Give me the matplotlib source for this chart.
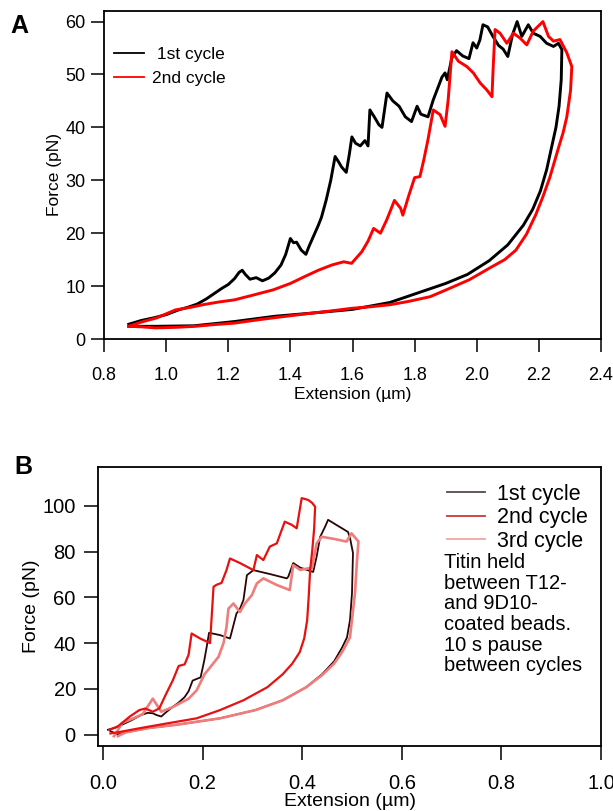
import matplotlib
matplotlib.use("Agg")
import matplotlib.pyplot as plt

plt.rcParams['font.family'] = ['Liberation Sans', 'DejaVu Sans']

# ---- panel A : titin, two cycles ----
a_c1_up_x = [0.88, 0.92, 0.96, 1.0, 1.04, 1.07, 1.10, 1.13, 1.16, 1.18, 1.20, 1.22, 1.235, 1.245, 1.255,
             1.27, 1.29, 1.31, 1.33, 1.35, 1.37, 1.385, 1.40, 1.41, 1.42, 1.435, 1.45, 1.46, 1.475, 1.49,
             1.50, 1.515, 1.53, 1.544, 1.555, 1.565, 1.58, 1.59, 1.598, 1.61, 1.625, 1.64, 1.65, 1.656,
             1.67, 1.685, 1.695, 1.711, 1.73, 1.75, 1.77, 1.79, 1.808, 1.82, 1.843, 1.86, 1.875, 1.888,
             1.898, 1.905, 1.92, 1.935, 1.955, 1.975, 1.988, 2.0, 2.01, 2.02, 2.035, 2.052, 2.07, 2.085,
             2.1, 2.115, 2.13, 2.145, 2.166, 2.182, 2.204, 2.225, 2.247, 2.263, 2.274]
a_c1_up_y = [2.8, 3.5, 4.0, 4.6, 5.5, 6.0, 6.6, 7.6, 8.8, 9.6, 10.3, 11.4, 12.6, 13.0, 12.2,
             11.3, 11.6, 11.0, 11.5, 12.5, 14.0, 16.0, 19.0, 18.2, 18.3, 16.8, 16.0, 17.5, 19.5, 21.5,
             23.0, 26.2, 30.0, 34.5, 33.5, 32.5, 31.5, 35.0, 38.2, 37.0, 36.5, 37.5, 36.5, 43.3,
             42.0, 40.5, 40.0, 46.5, 45.0, 44.0, 42.0, 41.1, 44.0, 42.5, 42.0, 45.2, 47.5, 49.5,
             50.3, 49.0, 53.2, 54.5, 53.5, 53.0, 56.0, 55.0, 56.5, 59.4, 59.0, 57.2, 55.5, 54.8,
             53.4, 57.5, 60.0, 57.2, 59.4, 57.8, 57.2, 55.9, 55.3, 55.9, 54.7]
a_c1_dn_x = [2.274, 2.272, 2.265, 2.255, 2.24, 2.225, 2.205, 2.18, 2.15, 2.10, 2.04, 1.97, 1.90, 1.81,
             1.72, 1.60, 1.47, 1.35, 1.22, 1.09, 0.97, 0.88]
a_c1_dn_y = [54.7, 49.0, 44.0, 40.0, 36.0, 32.0, 28.0, 24.5, 21.5, 17.8, 14.8, 12.2, 10.5, 8.7,
             6.9, 5.6, 4.9, 4.3, 3.3, 2.5, 2.4, 2.4]

a_c2_up_x = [0.88, 0.92, 0.97, 1.03, 1.08, 1.12, 1.17, 1.22, 1.28, 1.345, 1.40, 1.446, 1.49, 1.534,
             1.572, 1.597, 1.63, 1.65, 1.668, 1.69, 1.71, 1.723, 1.735, 1.755, 1.762, 1.78, 1.80,
             1.817, 1.83, 1.843, 1.86, 1.882, 1.898, 1.908, 1.914, 1.92, 1.941, 1.968, 1.989, 2.011,
             2.032, 2.049, 2.053, 2.059, 2.075, 2.097, 2.118, 2.139, 2.161, 2.182, 2.213, 2.231,
             2.247, 2.268, 2.29, 2.306]
a_c2_up_y = [2.4, 3.2, 4.0, 5.5, 6.0, 6.5, 7.0, 7.4, 8.3, 9.3, 10.5, 11.8, 13.0, 14.0,
             14.6, 14.3, 16.5, 18.5, 20.9, 20.0, 22.5, 24.4, 26.2, 24.7, 23.4, 26.9, 30.5,
             30.7, 34.0, 37.7, 43.3, 42.4, 40.2, 45.2, 49.7, 54.3, 52.5, 51.5, 50.3, 48.4,
             47.1, 45.8, 51.5, 58.5, 57.8, 55.9, 57.8, 56.9, 55.6, 58.2, 60.0, 57.2,
             56.3, 56.6, 54.1, 51.5]
a_c2_dn_x = [2.306, 2.302, 2.29, 2.278, 2.265, 2.252, 2.235, 2.213, 2.19, 2.16, 2.126, 2.09, 2.05,
             1.976, 1.91, 1.85, 1.78, 1.723, 1.66, 1.597, 1.53, 1.471, 1.40, 1.345, 1.28, 1.22,
             1.15, 1.094, 1.03, 0.966, 0.92, 0.88]
a_c2_dn_y = [51.5, 47.0, 42.0, 39.0, 36.5, 33.9, 30.5, 26.9, 23.5, 19.8, 16.8, 15.0, 13.7,
             11.2, 9.5, 8.0, 7.1, 6.5, 6.1, 5.8, 5.3, 4.9, 4.4, 4.0, 3.5, 3.0,
             2.7, 2.4, 2.2, 2.1, 2.3, 2.4]

a_xticks = [0.8, 1.0, 1.2, 1.4, 1.6, 1.8, 2.0, 2.2, 2.4]
a_yticks = [0, 10, 20, 30, 40, 50, 60]

# ---- panel B : three cycles ----
b_c1_up_x = [0.01, 0.025, 0.038, 0.055, 0.077, 0.09, 0.1, 0.108, 0.117, 0.128, 0.14, 0.152, 0.164,
             0.172, 0.18, 0.19, 0.196, 0.203, 0.208, 0.213, 0.235, 0.255, 0.261, 0.268, 0.275, 0.282,
             0.289, 0.302, 0.335, 0.369, 0.372, 0.382, 0.396, 0.422, 0.429, 0.436, 0.446, 0.452,
             0.47, 0.492, 0.496]
b_c1_up_y = [2.1, 3.0, 4.3, 6.0, 8.6, 9.5, 9.3, 8.5, 7.9, 10.0, 12.1, 14.0, 16.4,
             19.0, 23.6, 24.5, 25.0, 32.0, 38.0, 44.5, 43.5, 42.0, 47.0, 52.9, 55.0, 58.8,
             69.7, 71.9, 70.2, 68.3, 69.0, 75.0, 73.0, 71.1, 77.8, 86.4, 90.9, 93.9,
             91.5, 88.6, 86.0]
b_c1_dn_x = [0.496, 0.502, 0.50, 0.496, 0.49, 0.48, 0.464, 0.44, 0.408, 0.361, 0.306, 0.235, 0.148,
             0.093, 0.046, 0.03, 0.015]
b_c1_dn_y = [86.0, 79.4, 61.8, 50.0, 42.5, 38.0, 32.0, 26.4, 20.7, 15.0, 10.7, 7.1, 4.3,
             2.9, 1.0, 0.0, 1.5]

b_c2_up_x = [0.013, 0.03, 0.054, 0.073, 0.085, 0.1, 0.113, 0.125, 0.14, 0.152, 0.164, 0.172, 0.178,
             0.195, 0.215, 0.222, 0.228, 0.238, 0.248, 0.255, 0.275, 0.302, 0.309, 0.322, 0.335,
             0.349, 0.365, 0.379, 0.389, 0.399, 0.412, 0.42, 0.426]
b_c2_up_y = [2.1, 3.6, 7.9, 10.7, 11.4, 10.0, 11.4, 17.0, 23.6, 30.0, 30.7, 35.0, 44.2,
             42.0, 40.0, 64.6, 65.5, 66.3, 71.9, 77.0, 75.0, 71.9, 78.5, 76.3, 82.2,
             83.6, 93.1, 91.7, 90.2, 103.4, 102.6, 101.3, 99.6]
b_c2_dn_x = [0.426, 0.424, 0.42, 0.416, 0.413, 0.41, 0.404, 0.395, 0.38, 0.361, 0.33, 0.282, 0.235,
             0.188, 0.132, 0.077, 0.03, 0.015]
b_c2_dn_y = [99.6, 90.0, 80.0, 72.0, 60.0, 50.0, 42.0, 36.0, 31.0, 26.4, 20.7, 15.0, 10.7,
             7.1, 5.0, 2.9, 1.0, 0.5]

b_c3_up_x = [0.022, 0.03, 0.038, 0.06, 0.08, 0.1, 0.117, 0.14, 0.172, 0.188, 0.204, 0.21, 0.232,
             0.242, 0.248, 0.252, 0.262, 0.275, 0.285, 0.299, 0.309, 0.322, 0.349, 0.375, 0.382,
             0.396, 0.42, 0.429, 0.439, 0.465, 0.489, 0.499, 0.513]
b_c3_up_y = [-0.7, 2.0, 5.0, 7.0, 9.0, 15.7, 10.0, 12.0, 15.7, 19.3, 26.4, 28.0, 34.0,
             40.0, 47.0, 55.1, 57.3, 53.6, 57.3, 61.0, 66.1, 68.3, 65.4, 63.2, 74.1,
             72.0, 73.0, 83.6, 86.5, 85.5, 84.4, 88.0, 84.4]
b_c3_dn_x = [0.513, 0.51, 0.506, 0.496, 0.48, 0.464, 0.44, 0.408, 0.361, 0.306, 0.235, 0.148, 0.093,
             0.046, 0.03]
b_c3_dn_y = [84.4, 76.0, 61.8, 42.5, 36.0, 31.0, 26.0, 20.7, 15.0, 10.7, 7.1, 4.3, 2.9,
             1.0, -0.7]

b_xticks = [0.0, 0.2, 0.4, 0.6, 0.8, 1.0]
b_yticks = [0, 20, 40, 60, 80, 100]
b_note = "Titin held\nbetween T12-\nand 9D10-\ncoated beads.\n10 s pause\nbetween cycles"

fig = plt.figure(figsize=(6.13, 8.11), dpi=100)
W, H = 613.0, 811.0

def style(ax, fs, tlen, xpad, ypad):
    for s in ax.spines.values():
        s.set_linewidth(1.3)
    ax.tick_params(direction='out', length=tlen, width=1.1, labelsize=fs,
                   top=False, right=False)
    ax.tick_params(axis='x', pad=xpad)
    ax.tick_params(axis='y', pad=ypad)

# panel A
axA = fig.add_axes([104 / W, 1 - 339 / H, 497 / W, 328 / H])
lA1, = axA.plot(a_c1_up_x + a_c1_dn_x, a_c1_up_y + a_c1_dn_y, color='black', lw=2.1)
lA2, = axA.plot(a_c2_up_x + a_c2_dn_x, a_c2_up_y + a_c2_dn_y, color='#ff0000', lw=2.1)
axA.set_xlim(0.8, 2.4)
axA.set_ylim(0, 62)
axA.set_xticks(a_xticks)
axA.set_xticklabels(["%.1f" % v for v in a_xticks])
axA.set_yticks(a_yticks)
style(axA, 13, 9.5, 11, 4)
axA.set_xlabel("Extension (µm)", fontsize=12.5, labelpad=2)
axA.set_ylabel("Force (pN)", fontsize=12.5)
axA.yaxis.set_label_coords(-0.085, 0.5)
legA = axA.legend([lA1, lA2], [" 1st cycle", "2nd cycle"], loc='upper left',
                  bbox_to_anchor=(0.02, 0.89), frameon=False, fontsize=12.5,
                  handlelength=1.75, handletextpad=0.45, labelspacing=0.48,
                  borderaxespad=0, borderpad=0)
for l in legA.get_lines():
    l.set_linewidth(1.3)

# panel B
axB = fig.add_axes([98 / W, 1 - 746 / H, 503 / W, 279 / H])
lB1, = axB.plot(b_c1_up_x + b_c1_dn_x, b_c1_up_y + b_c1_dn_y, color='#2a0505', lw=1.3)
lB3, = axB.plot(b_c3_up_x + b_c3_dn_x, b_c3_up_y + b_c3_dn_y, color='#f07c7c', lw=1.9)
lB2, = axB.plot(b_c2_up_x + b_c2_dn_x, b_c2_up_y + b_c2_dn_y, color='#e81010', lw=1.6)
axB.set_xlim(-0.01, 1.0)
axB.set_ylim(-5, 117)
axB.set_xticks(b_xticks)
axB.set_xticklabels(["%.1f" % v for v in b_xticks])
axB.set_yticks(b_yticks)
style(axB, 14.5, 10, 10, 6)
axB.set_xlabel("Extension (µm)", fontsize=14, labelpad=0)
axB.set_ylabel("Force (pN)", fontsize=14)
axB.yaxis.set_label_coords(-0.115, 0.5)
legB = axB.legend([lB1, lB2, lB3], ["1st cycle", "2nd cycle", "3rd cycle"], loc='upper left',
                  bbox_to_anchor=(0.694, 0.94), frameon=False, fontsize=15.5,
                  handlelength=1.75, handletextpad=0.55, labelspacing=0.12,
                  borderaxespad=0, borderpad=0)
for l, c in zip(legB.get_lines(), ['#5a4848', '#c83838', '#f4a4a4']):
    l.set_color(c)
    l.set_linewidth(1.3)
axB.text(0.688, 0.692, b_note, transform=axB.transAxes, fontsize=14.5,
         va='top', ha='left', linespacing=1.11)

fig.text(10 / W, 1 - 26 / H, "A", fontsize=18, fontweight='bold', va='center', ha='left')
fig.text(14 / W, 1 - 467 / H, "B", fontsize=18, fontweight='bold', va='center', ha='left')

fig.savefig("out.png", dpi=100)
